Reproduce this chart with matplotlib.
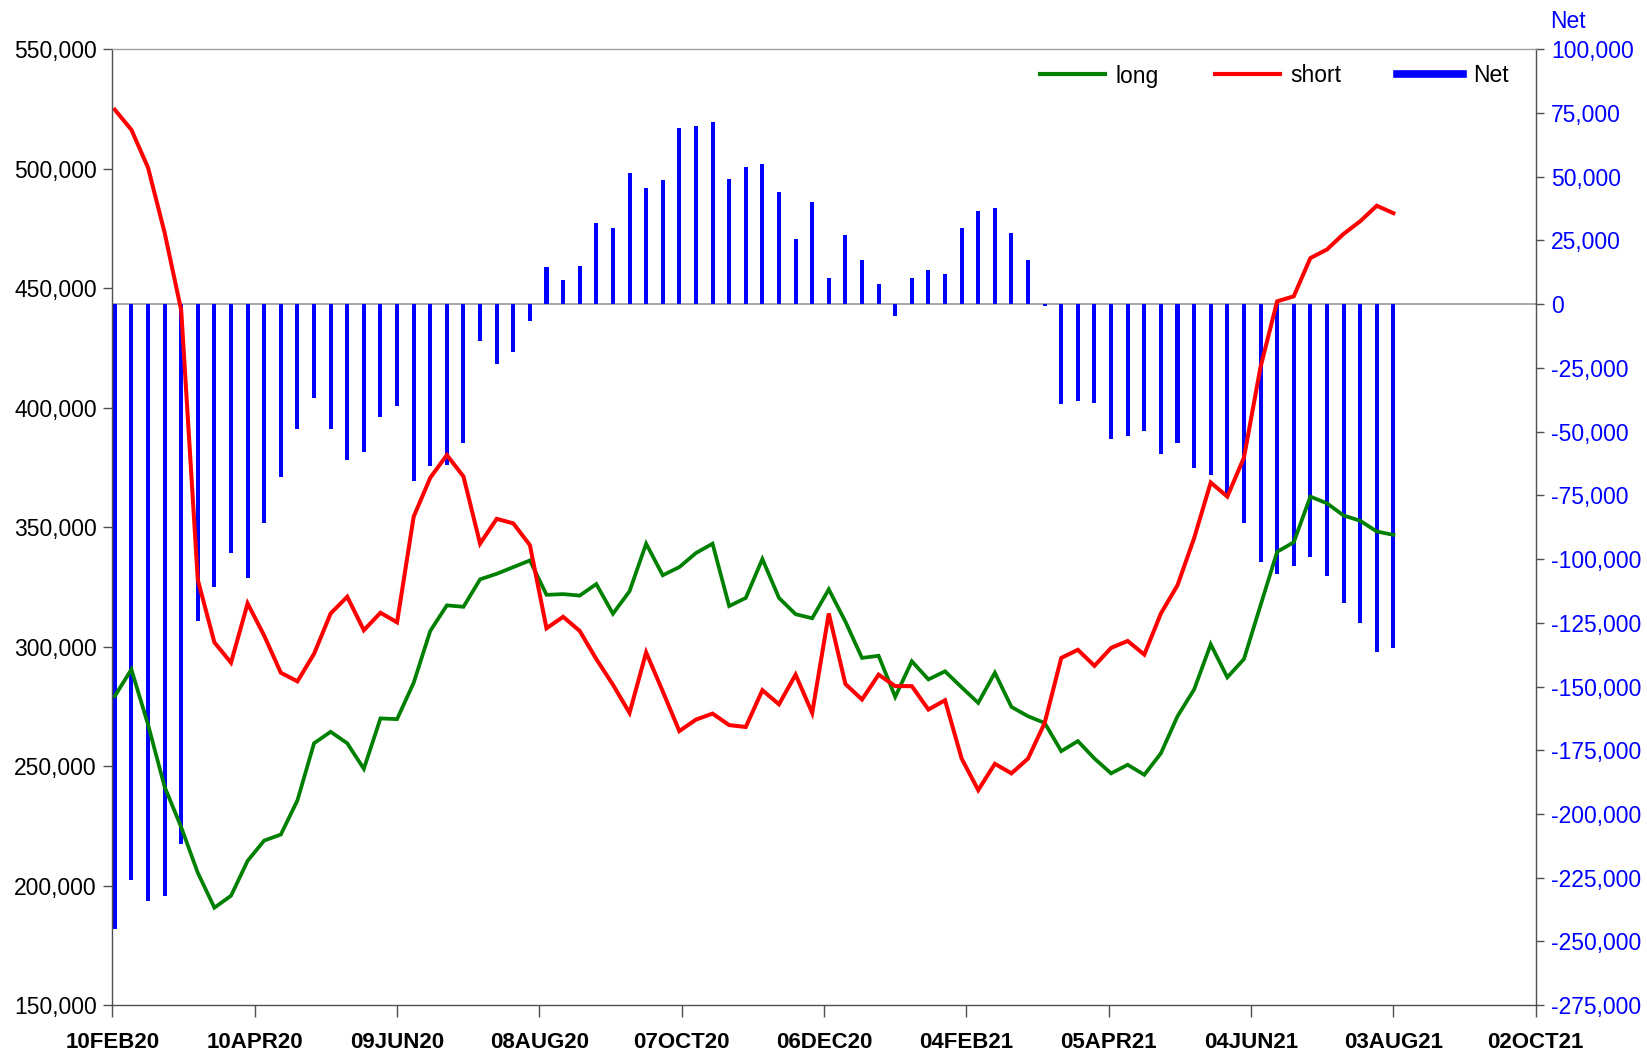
import matplotlib
matplotlib.use("Agg")
import matplotlib.pyplot as plt
from matplotlib.lines import Line2D
from matplotlib.ticker import FuncFormatter, MultipleLocator
from datetime import date, timedelta

plt.rcParams['font.family'] = ['Liberation Sans', 'DejaVu Sans']

# ---- data ----
start_date = date(2020, 2, 11)
n_weeks = 78
dates = [start_date + timedelta(weeks=i) for i in range(n_weeks)]

long_pos = [279300, 290500, 267500, 241400, 224500, 205400, 190800, 195800, 210400, 218900,
            221400, 235700, 259600, 264400, 259600, 248900, 270000, 269700, 284900, 306600,
            317300, 316700, 328200, 330500, 333300, 336100, 321700, 322000, 321400, 326200,
            313800, 323200, 343100, 329900, 333300, 339200, 343100, 317000, 320400, 336700,
            320400, 313600, 311900, 324000, 310500, 295300, 296200, 279000, 293900, 286300,
            289700, 283000, 276500, 289100, 274800, 270900, 268100, 256300, 260500, 253200,
            247000, 250600, 246400, 255400, 270900, 282100, 301000, 287200, 294800, 317300,
            339700, 343700, 362800, 360000, 354900, 352700, 348200, 346800]

short_pos = [524700, 516300, 500500, 473300, 440800, 328000, 301800, 293300, 318100, 304600,
             289100, 285500, 297000, 313900, 320900, 306900, 314200, 310200, 354400, 370700,
             380200, 371200, 343100, 353500, 351600, 342500, 307700, 312500, 306600, 294800,
             284100, 272300, 297600, 281300, 264700, 269500, 272000, 267200, 266400, 281800,
             275900, 288300, 272300, 313900, 284400, 277900, 288300, 283500, 283500, 273700,
             277600, 253200, 240000, 251000, 247000, 253200, 268100, 295300, 298700, 292000,
             299500, 302400, 296700, 313900, 325700, 345400, 368700, 362800, 379100, 417000,
             444500, 446600, 462600, 466200, 472700, 478000, 484500, 481400]

net_pos = [-245200, -225700, -234100, -232300, -211700, -124200, -111100, -97600, -107400, -86000,
           -67900, -49100, -37000, -49100, -61300, -58100, -44400, -39900, -69400, -63400,
           -63100, -54400, -14400, -23300, -18600, -6500, 14600, 9600, 14900, 32000,
           29900, 51300, 45500, 48600, 69200, 70000, 71300, 49100, 53600, 55000,
           43900, 25400, 39900, 10100, 27000, 17500, 7800, -4600, 10100, 13300,
           12000, 29900, 36500, 37800, 27800, 17500, -900, -39100, -38100, -38600,
           -52800, -51800, -49900, -58600, -54400, -64200, -67100, -75500, -86000, -101100,
           -105800, -102900, -99200, -106600, -117400, -125000, -136400, -134800]

tick_dates = [date(2020, 2, 10), date(2020, 4, 10), date(2020, 6, 9), date(2020, 8, 8),
              date(2020, 10, 7), date(2020, 12, 6), date(2021, 2, 4), date(2021, 4, 5),
              date(2021, 6, 4), date(2021, 8, 3), date(2021, 10, 2)]
tick_labels = ['10FEB20', '10APR20', '09JUN20', '08AUG20', '07OCT20', '06DEC20',
               '04FEB21', '05APR21', '04JUN21', '03AUG21', '02OCT21']

# ---- figure ----
W, H = 1647, 1055
fig = plt.figure(figsize=(W / 100, H / 100), dpi=100)
L, R, T, B = 112.4, 1535.7, 49.2, 1005.2
ax = fig.add_axes([L / W, 1 - B / H, (R - L) / W, (B - T) / H])
ax2 = ax.twinx()

spine_dark = '#505050'
spine_light = '#a0a0a0'

# bars on right axis
ax2.bar(dates, net_pos, width=1.7, color='#0000ff', align='center', zorder=2)
ax2.axhline(0, color=spine_light, lw=1.3, zorder=1)
ax2.set_ylim(-275000, 100000)
ax2.yaxis.set_major_locator(MultipleLocator(25000))
ax2.yaxis.set_major_formatter(FuncFormatter(lambda v, p: f"{v:,.0f}"))

# lines on left axis (drawn above bars)
ax.set_zorder(ax2.get_zorder() + 1)
ax.patch.set_visible(False)
ax.plot(dates, long_pos, color='#008000', lw=2.7, solid_joinstyle='miter')
ax.plot(dates, short_pos, color='#ff0000', lw=2.9, solid_joinstyle='miter')
ax.set_ylim(150000, 550000)
ax.yaxis.set_major_locator(MultipleLocator(50000))
ax.yaxis.set_major_formatter(FuncFormatter(lambda v, p: f"{v:,.0f}"))

ax.set_xlim(tick_dates[0], tick_dates[-1])
ax.set_xticks(tick_dates)
ax.set_xticklabels(tick_labels, fontweight='bold')

# spines
for a in (ax, ax2):
    for s in a.spines.values():
        s.set_visible(False)
ax.spines['left'].set_visible(True)
ax.spines['left'].set_color(spine_dark)
ax.spines['bottom'].set_visible(True)
ax.spines['bottom'].set_color(spine_dark)
ax.spines['top'].set_visible(True)
ax.spines['top'].set_color(spine_light)
ax2.spines['right'].set_visible(True)
ax2.spines['right'].set_color(spine_dark)
for s in ('left', 'bottom', 'top'):
    ax.spines[s].set_linewidth(1.0)
ax2.spines['right'].set_linewidth(1.0)

ax.tick_params(axis='x', direction='out', length=8.5, width=1, color=spine_dark,
               pad=11, labelsize=16, labelcolor='black')
ax.tick_params(axis='y', direction='out', length=6.8, width=1, color=spine_dark,
               pad=4.5, labelsize=16.5, labelcolor='black')
ax2.tick_params(axis='y', direction='out', length=6, width=1, color=spine_dark,
                pad=5, labelsize=16.5, labelcolor='#0000ff')

fig.text(1550 / W, 1 - 22 / H, 'Net', color='#0000ff', fontsize=16.5,
         ha='left', va='center')

# legend
handles = [Line2D([], [], color='#008000', lw=3),
           Line2D([], [], color='#ff0000', lw=3),
           Line2D([], [], color='#0000ff', lw=5.5)]
ax.legend(handles, ['long', 'short', 'Net'], ncol=3, frameon=False,
          loc='center right', bbox_to_anchor=(1520 / W, 1 - 76 / H),
          bbox_transform=fig.transFigure, fontsize=16.5, borderpad=0,
          handlelength=2.85, handletextpad=0.45, columnspacing=2.45)

fig.savefig('out.png', dpi=100)
